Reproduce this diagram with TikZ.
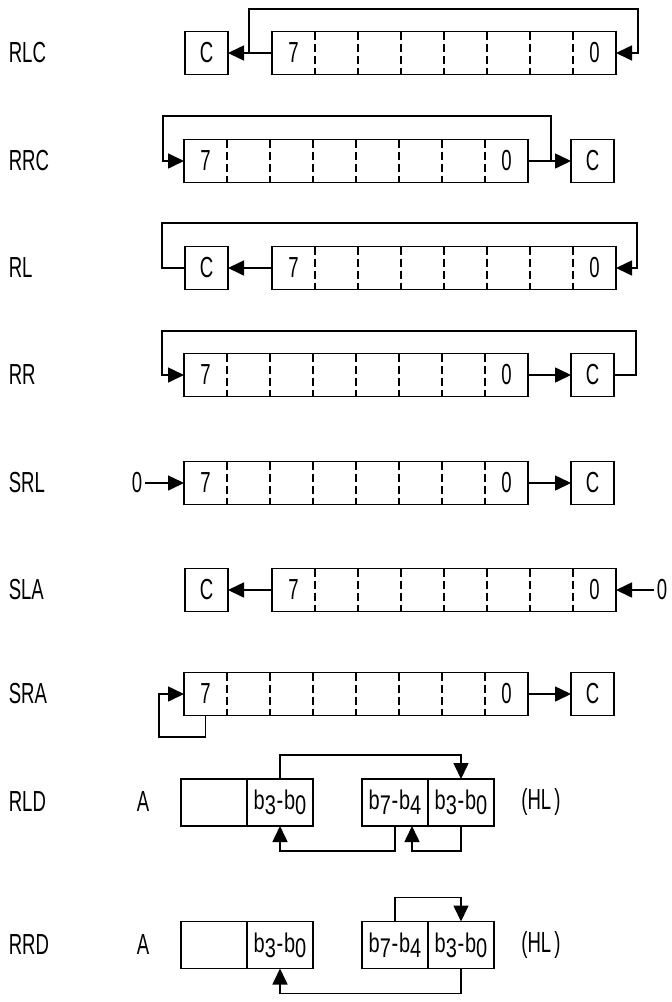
\documentclass[tikz,border=0pt]{standalone}
\usepackage{fontspec}
\setmainfont{Liberation Sans}
\usepackage{tikz}
\usetikzlibrary{arrows.meta, positioning}

\newcommand{\slim}[1]{\scalebox{0.64}[1]{#1}}
\newcommand{\bits}[2]{\scalebox{0.74}[1]{b\raisebox{-5pt}{#1}\kern1pt-\kern1pt b\raisebox{-5pt}{#2}}}

\begin{document}
\begin{tikzpicture}[x=1pt, y=-1pt, line width=1.6pt,
    txt/.style={font=\fontsize{29}{30}\selectfont, inner sep=2pt},
    reg/.style={draw, minimum width=344pt, minimum height=43pt, inner sep=0pt, outer sep=0pt},
    cbox/.style={draw, txt, minimum width=43pt, minimum height=43pt, inner sep=0pt, outer sep=0pt},
    half/.style={draw, font=\fontsize{27}{28}\selectfont, minimum width=66pt, minimum height=47pt, inner sep=0pt, outer sep=0pt},
    bitline/.style={line width=1.3pt, dash pattern=on 8pt off 4pt},
    tip/.style={-{Triangle[length=16pt, width=15pt]}},
  ]
  \useasboundingbox (0,0) rectangle (672,1002);
  % Names of the instructions
  \node[txt, anchor=west] (n1) at (6,53) {\slim{RLC}};
  \node[txt, anchor=west] (n2) at (6,161) {\slim{RRC}};
  \node[txt, anchor=west] (n3) at (6,268) {\slim{RL}};
  \node[txt, anchor=west] (n4) at (6,375) {\slim{RR}};
  \node[txt, anchor=west] (n5) at (6,483) {\slim{SRL}};
  \node[txt, anchor=west] (n6) at (6,590) {\slim{SLA}};
  \node[txt, anchor=west] (n7) at (6,694) {\slim{SRA}};
  \node[txt, anchor=west] (n8) at (6,802) {\slim{RLD}};
  \node[txt, anchor=west] (n9) at (6,945) {\slim{RRD}};
  % Registers and carry boxes
  \node[reg] (r1) at (444,53) {};
  \node[cbox] (c1) at (206.5,53) {\slim{C}};
  \node[reg] (r2) at (356,161) {};
  \node[cbox] (c2) at (592.5,161) {\slim{C}};
  \node[reg] (r3) at (444,268) {};
  \node[cbox] (c3) at (206.5,268) {\slim{C}};
  \node[reg] (r4) at (356,375) {};
  \node[cbox] (c4) at (592.5,375) {\slim{C}};
  \node[reg] (r5) at (356,483) {};
  \node[cbox] (c5) at (592.5,483) {\slim{C}};
  \node[reg] (r6) at (444,590) {};
  \node[cbox] (c6) at (206.5,590) {\slim{C}};
  \node[reg] (r7) at (356,694) {};
  \node[cbox] (c7) at (592.5,694) {\slim{C}};
  % Bit cells
  \foreach \r in {r1,r2,r3,r4,r5,r6,r7} {
    \foreach \i in {1,...,7}
      \draw[bitline] ([xshift=\i*43pt]\r.north west) -- ([xshift=\i*43pt]\r.south west);
    \node[txt] (\r-hi) at ([xshift=21.5pt]\r.west) {\slim{7}};
    \node[txt] (\r-lo) at ([xshift=-21.5pt]\r.east) {\slim{0}};
  }
  % RLC
  \coordinate (j1) at (249,53);
  \coordinate (t1) at (638,9);
  \draw[tip] (r1.west) -- (c1.east);
  \draw[tip] (j1) |- (t1) |- (r1.east);
  % RRC
  \coordinate (j2) at (551,161);
  \coordinate (t2) at (163,116);
  \draw[tip] (r2.east) -- (c2.west);
  \draw[tip] (j2) |- (t2) |- (r2.west);
  % RL
  \coordinate (t3) at (162,223);
  \coordinate (u3) at (637,223);
  \draw[tip] (r3.west) -- (c3.east);
  \draw[tip] (c3.west) -| (t3) -- (u3) |- (r3.east);
  % RR
  \coordinate (t4) at (636,331);
  \coordinate (u4) at (162,331);
  \draw[tip] (r4.east) -- (c4.west);
  \draw[tip] (c4.east) -| (t4) -- (u4) |- (r4.west);
  % SRL
  \node[txt] (z5) at (137,483) {\slim{0}};
  \draw[tip] (z5) -- (r5.west);
  \draw[tip] (r5.east) -- (c5.west);
  % SLA
  \node[txt] (z6) at (662,590) {\slim{0}};
  \draw[tip] (r6.west) -- (c6.east);
  \draw[tip] (z6) -- (r6.east);
  % SRA
  \coordinate (s7) at (159,737);
  \draw[tip] (r7.east) -- (c7.west);
  \draw[tip] ([xshift=21.5pt]r7.south west) |- (s7) |- (r7.west);
  % RLD
  \node[txt] (a8) at (143,802) {\slim{A}};
  \node[half] (ah8) at (214,802.5) {};
  \node[half, right=0pt of ah8] (al8) {\bits{3}{0}};
  \node[half] (hh8) at (395,802.5) {\bits{7}{4}};
  \node[half, right=0pt of hh8] (hl8) {\bits{3}{0}};
  \node[txt] (m8) at (541,802) {\slim{(HL\,)}};
  \draw[tip] (al8.north) -- ++(0,-24) -| (hl8.north);
  \draw[tip] (hh8.south) -- ++(0,25) -| (al8.south);
  \draw[tip] (hl8.south) -- ++(0,25) -| ([xshift=17pt]hh8.south);
  % RRD
  \node[txt] (a9) at (143,945) {\slim{A}};
  \node[half] (ah9) at (214,945) {};
  \node[half, right=0pt of ah9] (al9) {\bits{3}{0}};
  \node[half] (hh9) at (395,945) {\bits{7}{4}};
  \node[half, right=0pt of hh9] (hl9) {\bits{3}{0}};
  \node[txt] (m9) at (541,945) {\slim{(HL\,)}};
  \draw[tip] (hh9.north) -- ++(0,-24) -| (hl9.north);
  \draw[tip] (hl9.south) -- ++(0,25) -| (al9.south);
\end{tikzpicture}
\end{document}
